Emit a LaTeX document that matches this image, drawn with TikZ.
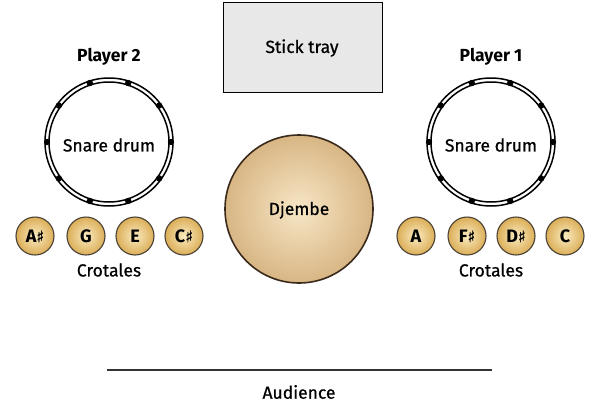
\documentclass[tikz,border=0pt]{standalone}
\usepackage{fontspec}
\setmainfont{Fira Sans}
\newfontfamily\medfont[FakeBold=0.7]{Fira Sans}
\newfontfamily\symfont[FakeBold=0.8]{DejaVu Sans}
\newcommand{\shp}{{\symfont\fontsize{16}{18}\selectfont ♯}}
\usetikzlibrary{calc}
\definecolor{djin}{HTML}{F7E6C6}
\definecolor{djout}{HTML}{D8B684}
\definecolor{djedge}{HTML}{3A2A1C}
\definecolor{crin}{HTML}{FAEBC0}
\definecolor{crout}{HTML}{DBAE58}
\definecolor{credge}{HTML}{4A4236}
\definecolor{trayfill}{HTML}{E8E8E8}
\definecolor{linegray}{HTML}{333333}
\begin{document}
\begin{tikzpicture}[x=1pt,y=-1pt,
  lbl/.style={font=\medfont\fontsize{17.5}{20}\selectfont, inner sep=0pt},
  plbl/.style={font=\fontsize{17.5}{20}\selectfont\bfseries, inner sep=0pt},
  crotale/.style={circle, minimum size=38pt, inner sep=0pt, draw=credge, line width=1.1pt,
    inner color=crin, outer color=crout, font=\fontsize{18}{20}\selectfont\bfseries},
  ring/.style={draw=black, line width=1.5pt},
  lug/.style={fill=black}]
\useasboundingbox (0,0) rectangle (600,410);
\fill[white] (0,0) rectangle (600,410);

% Stick tray
\node[draw=black, line width=1.3pt, fill=trayfill, minimum width=159pt, minimum height=90pt,
  inner sep=0pt, anchor=north west] (tray) at (223,2) {};
\node[lbl] (traytxt) at (302,48) {Stick tray};

% Djembe
\node[circle, minimum size=148pt, inner sep=0pt, draw=djedge, line width=1.6pt,
  inner color=djin, outer color=djout] (djembe) at (299,209) {};
\node[lbl] (djtxt) at (299,210) {Djembe};

% Snare drums
\foreach \cx/\nm in {109/snareL, 491/snareR}{
  \draw[ring] (\cx,142) circle (64);
  \draw[ring] (\cx,142) circle (60);
  \foreach \a in {0,36,...,324}{
    \fill[lug] ($(\cx,142)+(\a:62)$) circle (3.2);
  }
}
\node[lbl] (snareLtxt) at (109,145) {Snare drum};
\node[lbl] (snareRtxt) at (491,145) {Snare drum};

% Players
\node[plbl] (p2) at (109,57) {Player 2};
\node[plbl] (p1) at (491,57) {Player 1};

% Crotales
\node[crotale] (c1) at (35,236) {A\shp};
\node[crotale] (c2) at (86,236) {G};
\node[crotale] (c3) at (135,236) {E};
\node[crotale] (c4) at (184,236) {C\shp};
\node[crotale] (c5) at (416,236) {A};
\node[crotale] (c6) at (467,236) {F\shp};
\node[crotale] (c7) at (516,236) {D\shp};
\node[crotale] (c8) at (565,236) {C};
\node[lbl] (crL) at (109,270) {Crotales};
\node[lbl] (crR) at (491,270) {Crotales};

% Audience
\coordinate (aL) at (107,370);
\coordinate (aR) at (492,370);
\draw[linegray, line width=1.8pt] (aL) -- (aR);
\node[lbl] (aud) at (299,392) {Audience};
\end{tikzpicture}
\end{document}
